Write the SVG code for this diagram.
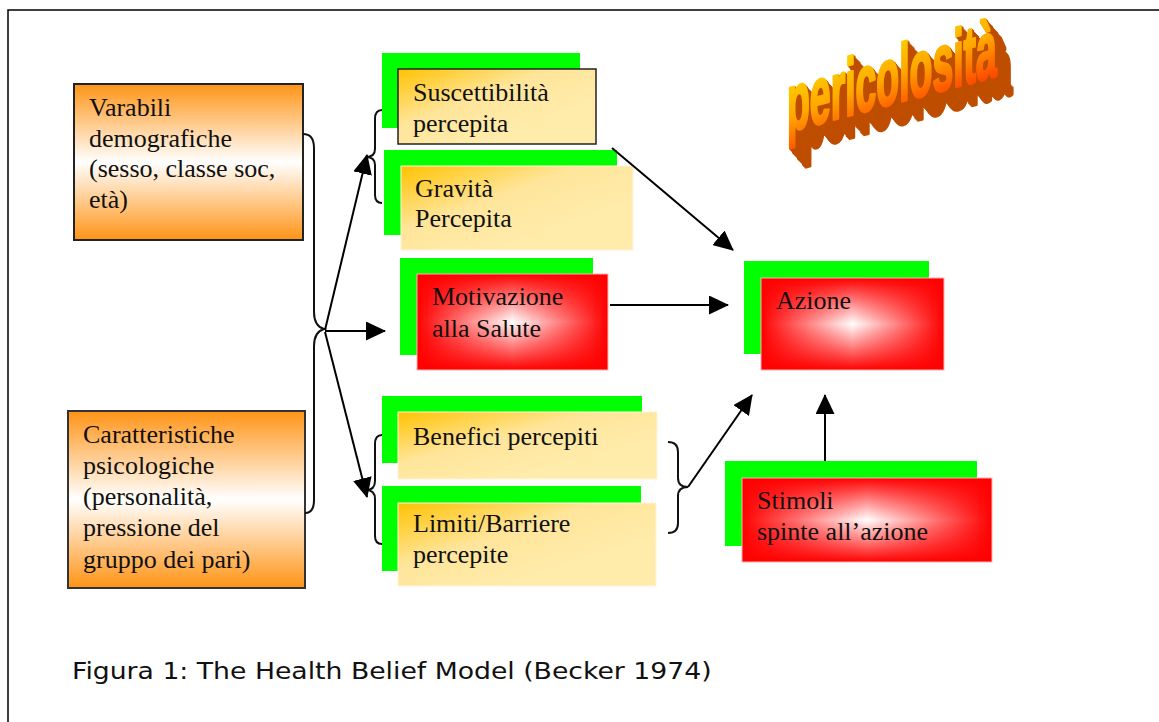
<svg xmlns="http://www.w3.org/2000/svg" width="1159" height="722" viewBox="0 0 1159 722">
<style>
.t{font-family:"Liberation Serif","Times New Roman",serif;font-size:26px;fill:#111;}
.cap{font-family:"DejaVu Sans",Verdana,sans-serif;font-size:23px;fill:#111;}
.green{fill:#00FF00;}
.arr{fill:none;stroke:#000;stroke-width:2;marker-end:url(#ah);}
.brace{fill:none;stroke:#111;stroke-width:2;}
</style>
<defs>
<marker id="ah" viewBox="0 0 20 19" refX="19" refY="9.5" markerWidth="20" markerHeight="19" orient="auto" markerUnits="userSpaceOnUse">
<path d="M0,0 L20,9.5 L0,19 z" fill="#000"/>
</marker>
<linearGradient id="orange" x1="0" y1="0" x2="0" y2="1">
<stop offset="0" stop-color="#FF9416"/>
<stop offset="0.5" stop-color="#FFFFFF"/>
<stop offset="1" stop-color="#FF9416"/>
</linearGradient>
<linearGradient id="yellow" x1="0" y1="0" x2="0.7" y2="0.7">
<stop offset="0" stop-color="#FFC200"/>
<stop offset="0.55" stop-color="#FFE59A"/>
<stop offset="1" stop-color="#FFEBAA"/>
</linearGradient>
<linearGradient id="redH" x1="0" y1="0" x2="1" y2="0">
<stop offset="0" stop-color="#FF0000" stop-opacity="1"/>
<stop offset="0.5" stop-color="#FF0000" stop-opacity="0"/>
<stop offset="1" stop-color="#FF0000" stop-opacity="1"/>
</linearGradient>
<linearGradient id="redV" x1="0" y1="0" x2="0" y2="1">
<stop offset="0" stop-color="#FF0000" stop-opacity="1"/>
<stop offset="0.5" stop-color="#FF0000" stop-opacity="0"/>
<stop offset="1" stop-color="#FF0000" stop-opacity="1"/>
</linearGradient>
<linearGradient id="word" x1="0" y1="0" x2="0.3" y2="1">
<stop offset="0" stop-color="#FFE800"/>
<stop offset="0.6" stop-color="#FFA800"/>
<stop offset="1" stop-color="#FF4A00"/>
</linearGradient>
<filter id="extrude" x="-20%" y="-40%" width="150%" height="200%">
<feOffset in="SourceAlpha" dx="1" dy="1.2" result="o1"/>
<feOffset in="SourceAlpha" dx="2" dy="2.4" result="o2"/>
<feOffset in="SourceAlpha" dx="3" dy="3.6" result="o3"/>
<feOffset in="SourceAlpha" dx="4" dy="4.8" result="o4"/>
<feOffset in="SourceAlpha" dx="5" dy="6" result="o5"/>
<feOffset in="SourceAlpha" dx="6" dy="7.2" result="o6"/>
<feOffset in="SourceAlpha" dx="7" dy="8.4" result="o7"/>
<feOffset in="SourceAlpha" dx="8" dy="9.6" result="o8"/>
<feOffset in="SourceAlpha" dx="9" dy="10.8" result="o9"/>
<feOffset in="SourceAlpha" dx="10" dy="12" result="o10"/>
<feOffset in="SourceAlpha" dx="11" dy="13.2" result="o11"/>
<feOffset in="SourceAlpha" dx="12" dy="14.4" result="o12"/>
<feOffset in="SourceAlpha" dx="13" dy="15.6" result="o13"/>
<feOffset in="SourceAlpha" dx="14" dy="16.8" result="o14"/>
<feOffset in="SourceAlpha" dx="15" dy="18" result="o15"/>
<feOffset in="SourceAlpha" dx="16" dy="19.2" result="o16"/>
<feMerge result="m">
<feMergeNode in="o1"/><feMergeNode in="o2"/><feMergeNode in="o3"/><feMergeNode in="o4"/>
<feMergeNode in="o5"/><feMergeNode in="o6"/><feMergeNode in="o7"/><feMergeNode in="o8"/>
<feMergeNode in="o9"/><feMergeNode in="o10"/><feMergeNode in="o11"/><feMergeNode in="o12"/>
<feMergeNode in="o13"/><feMergeNode in="o14"/><feMergeNode in="o15"/><feMergeNode in="o16"/>
</feMerge>
<feFlood flood-color="#BE4E00"/>
<feComposite in2="m" operator="in" result="ext"/>
<feMerge><feMergeNode in="ext"/><feMergeNode in="SourceGraphic"/></feMerge>
</filter>
</defs>

<rect x="0" y="0" width="1159" height="722" fill="#FFFFFF"/>
<path d="M8,722 L8,10 L1159,10" fill="none" stroke="#000" stroke-width="1.5"/>

<g id="node-varabili">
<rect x="74" y="84" width="229" height="156" fill="url(#orange)" stroke="#222" stroke-width="2"/>
<text class="t" x="89" y="116">Varabili</text>
<text class="t" x="89" y="147">demografiche</text>
<text class="t" x="89" y="177">(sesso, classe soc,</text>
<text class="t" x="89" y="208">età)</text>
</g>

<g id="node-caratteristiche">
<rect x="68" y="411" width="237" height="177" fill="url(#orange)" stroke="#333" stroke-width="2"/>
<text class="t" x="83" y="443">Caratteristiche</text>
<text class="t" x="83" y="474">psicologiche</text>
<text class="t" x="83" y="505">(personalità,</text>
<text class="t" x="83" y="536">pressione del</text>
<text class="t" x="83" y="568">gruppo dei pari)</text>
</g>

<g id="node-suscettibilita">
<rect class="green" x="382" y="53" width="198" height="75"/>
<rect x="398" y="69" width="198" height="75" fill="url(#yellow)" stroke="#222" stroke-width="1.5"/>
<text class="t" x="413" y="101">Suscettibilità</text>
<text class="t" x="413" y="132">percepita</text>
</g>

<g id="node-gravita">
<rect class="green" x="384" y="150" width="233" height="85"/>
<rect x="401" y="166" width="232" height="84" fill="url(#yellow)" stroke="#FFF4D8" stroke-width="1"/>
<text class="t" x="415" y="197">Gravità</text>
<text class="t" x="415" y="227">Percepita</text>
</g>

<g id="node-motivazione">
<rect class="green" x="400" y="258" width="193" height="97"/>
<rect x="417" y="274" width="191" height="96" fill="#FFFFFF"/>
<rect x="417" y="274" width="191" height="96" fill="url(#redH)"/>
<rect x="417" y="274" width="191" height="96" fill="url(#redV)" stroke="#FFB0B0" stroke-width="1"/>
<text class="t" x="432" y="305">Motivazione</text>
<text class="t" x="432" y="337">alla Salute</text>
</g>

<g id="node-azione">
<rect class="green" x="744" y="261" width="185" height="93"/>
<rect x="761" y="278" width="183" height="92" fill="#FFFFFF"/>
<rect x="761" y="278" width="183" height="92" fill="url(#redH)"/>
<rect x="761" y="278" width="183" height="92" fill="url(#redV)" stroke="#FFB0B0" stroke-width="1"/>
<text class="t" x="776" y="309">Azione</text>
</g>

<g id="node-benefici">
<rect class="green" x="382" y="396" width="260" height="67"/>
<rect x="398" y="412" width="259" height="67" fill="url(#yellow)" stroke="#FFF4D8" stroke-width="1"/>
<text class="t" x="413" y="445">Benefici percepiti</text>
</g>

<g id="node-limiti">
<rect class="green" x="382" y="486" width="259" height="85"/>
<rect x="398" y="503" width="258" height="83" fill="url(#yellow)" stroke="#FFF4D8" stroke-width="1"/>
<text class="t" x="413" y="532">Limiti/Barriere</text>
<text class="t" x="413" y="563">percepite</text>
</g>

<g id="node-stimoli">
<rect class="green" x="725" y="461" width="252" height="85"/>
<rect x="742" y="478" width="250" height="84" fill="#FFFFFF"/>
<rect x="742" y="478" width="250" height="84" fill="url(#redH)"/>
<rect x="742" y="478" width="250" height="84" fill="url(#redV)" stroke="#FFB0B0" stroke-width="1"/>
<text class="t" x="757" y="509">Stimoli</text>
<text class="t" x="757" y="540">spinte all’azione</text>
</g>

<g id="title-pericolosita" filter="url(#extrude)">
<g transform="translate(787,132) skewY(-15) scale(0.85,1.85)">
<text x="0" y="0" font-family="'Liberation Sans',Arial,sans-serif" font-weight="bold" font-size="44" fill="url(#word)" stroke="url(#word)" stroke-width="1.6" stroke-linejoin="round">pericolosità</text>
</g>
</g>

<g id="connectors">
<path class="brace" d="M303,134 Q314,134 314,148 L314,312 Q314,326 324,329 Q314,332 314,346 L314,500 Q314,513 305,513"/>
<path class="brace" d="M382,110 Q375,110 375,119 L375,149 Q375,157 366,157 Q375,157 375,165 L375,195 Q375,203 382,203"/>
<path class="brace" d="M382,435 Q375,435 375,444 L375,481 Q375,490 366,490 Q375,490 375,499 L375,536 Q375,544 382,544"/>
<path class="brace" d="M668,442 Q678,442 678,452 L678,478 Q678,487 688,487 Q678,487 678,496 L678,523 Q678,533 668,533"/>
<line class="arr" x1="325" y1="330" x2="367" y2="155"/>
<line class="arr" x1="325" y1="331" x2="385" y2="331"/>
<line class="arr" x1="325" y1="332" x2="367" y2="497"/>
<line class="arr" x1="612" y1="148" x2="733" y2="250"/>
<line class="arr" x1="610" y1="305" x2="728" y2="305"/>
<line class="arr" x1="688" y1="487" x2="752" y2="395"/>
<line class="arr" x1="825" y1="461" x2="825" y2="395"/>
</g>

<g transform="translate(72,679) scale(1.16,1)">
<text class="cap" x="0" y="0">Figura 1: The Health Belief Model (Becker 1974)</text>
</g>
</svg>
